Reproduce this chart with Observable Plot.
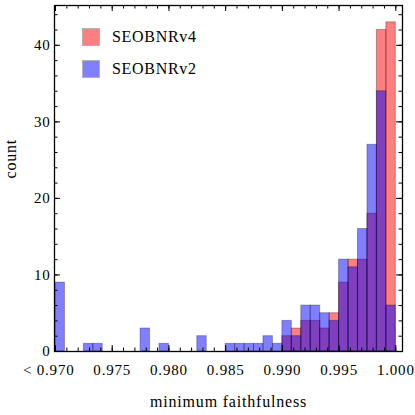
<!DOCTYPE html>
<html>
<head>
<meta charset="utf-8">
<script src="https://cdn.jsdelivr.net/npm/d3@7"></script>
<script src="https://cdn.jsdelivr.net/npm/@observablehq/plot@0.6"></script>
<style>
  html, body { margin: 0; padding: 0; background: #fff; }
  #wrap { position: relative; width: 415px; height: 415px; font-family: "Liberation Serif", serif; }
  #wrap svg text { font-family: "Liberation Serif", serif; }
  .leg { position: absolute; left: 83px; width: 16px; height: 16px; }
  .legtxt { position: absolute; left: 112px; font-size: 16px; letter-spacing: 0.7px; line-height: 16px; color: #000; }
</style>
</head>
<body>
<div id="wrap"></div>
<script>
// ---- data ----
const seriesNames = ["SEOBNRv4", "SEOBNRv2"];
const binLow = 0.970;          // first bin lower edge (values below 0.970 are collected in bin 0)
const binCount = 36;           // bins of width 1/1200 from 0.970 to 1.000
const countsV4 = [0,0,0,0,0,0,0,0,0,0,0,0,0,0,0,0,0,0,0,0,0,0,0,0,
                  2,3,4,4,3,5,9,12,12,18,42,43];
const countsV2 = [9,0,0,1,1,0,0,0,0,3,0,1,0,0,0,2,0,0,1,1,1,1,2,1,
                  4,2,6,6,5,4,12,11,16,27,34,6];
const xTickLabels = [0.970, 0.975, 0.980, 0.985, 0.990, 0.995, 1.000];
const yTickLabels = [0, 10, 20, 30, 40];

// ---- layout ----
const W = 415, H = 415;
const mL = 54, mR = 13, mT = 5, mB = 64;
const plotW = W - mL - mR, plotH = H - mT - mB;
const bw = (1.000 - binLow) / binCount;
const FONT = "Liberation Serif, serif";

const rows = [];
[countsV4, countsV2].forEach((arr, s) => {
  arr.forEach((c, i) => {
    if (c > 0) rows.push({series: seriesNames[s], lo: binLow + i * bw, hi: binLow + (i + 1) * bw, count: c});
  });
});
const colors = {SEOBNRv4: "rgb(255,0,0)", SEOBNRv2: "rgb(0,0,255)"};

const xMinor = d3.range(0, 31).map(k => +(0.970 + k * 0.001).toFixed(3));
const yMinor = d3.range(0, 46, 2);

const chart = Plot.plot({
  width: W, height: H,
  marginLeft: mL, marginRight: mR, marginTop: mT, marginBottom: mB,
  style: {fontFamily: FONT, fontSize: "15px", color: "#000", background: "#fff", letterSpacing: "0.8px"},
  x: {domain: [binLow - 0.0000882, 1.00059]},
  y: {domain: [0, 45.2]},
  marks: [
    Plot.rectY(rows.filter(d => d.series === "SEOBNRv4"), {x1: "lo", x2: "hi", y: "count", fill: d => colors[d.series], fillOpacity: 0.5, stroke: "black", strokeOpacity: 0.3, strokeWidth: 1}),
    Plot.rectY(rows.filter(d => d.series === "SEOBNRv2"), {x1: "lo", x2: "hi", y: "count", fill: d => colors[d.series], fillOpacity: 0.5, stroke: "black", strokeOpacity: 0.3, strokeWidth: 1}),
    // inward ticks: bottom & top (x), left & right (y)
    Plot.tickX(xMinor, {x: d => d, insetTop: plotH - 3.5, stroke: "black", strokeWidth: 1}),
    Plot.tickX(xMinor, {x: d => d, insetBottom: plotH - 3.5, stroke: "black", strokeWidth: 1}),
    Plot.tickX(xTickLabels, {x: d => d, insetTop: plotH - 6, stroke: "black", strokeWidth: 1}),
    Plot.tickX(xTickLabels, {x: d => d, insetBottom: plotH - 6, stroke: "black", strokeWidth: 1}),
    Plot.tickY(yMinor, {y: d => d, insetRight: plotW - 3.5, stroke: "black", strokeWidth: 1}),
    Plot.tickY(yMinor, {y: d => d, insetLeft: plotW - 3.5, stroke: "black", strokeWidth: 1}),
    Plot.tickY(yTickLabels, {y: d => d, insetRight: plotW - 6, stroke: "black", strokeWidth: 1}),
    Plot.tickY(yTickLabels, {y: d => d, insetLeft: plotW - 6, stroke: "black", strokeWidth: 1}),
    Plot.frame({stroke: "black", strokeWidth: 1.3}),
    // tick labels
    Plot.axisX(xTickLabels.slice(1), {tickSize: 0, tickPadding: 13, tickFormat: d => d.toFixed(3), fill: "black", label: null, fontSize: 15, fontFamily: FONT}),
    Plot.axisX([xTickLabels[0]], {tickSize: 0, tickPadding: 13, tickFormat: d => "< " + d.toFixed(3), textAnchor: "end", dx: 19, fill: "black", label: null, fontSize: 15, fontFamily: FONT}),
    Plot.axisY(yTickLabels, {tickSize: 0, tickPadding: 4, fill: "black", label: null, fontSize: 15, fontFamily: FONT}),
    // axis titles
    Plot.text(["count"], {text: d => d, frameAnchor: "left", dx: -44, rotate: -90, fontSize: 16, fill: "black", fontFamily: FONT}),
    Plot.text(["minimum faithfulness"], {text: d => d, frameAnchor: "bottom", dy: 55, fontSize: 16, fill: "black", fontFamily: FONT})
  ]
});
chart.style.letterSpacing = "0.8px";
const wrap = document.getElementById("wrap");
wrap.appendChild(chart);

// legend
[["SEOBNRv4", 29], ["SEOBNRv2", 61]].forEach(([name, top]) => {
  const sw = document.createElement("div");
  sw.className = "leg";
  sw.style.top = top + "px";
  sw.style.background = name === "SEOBNRv4" ? "rgba(255,0,0,0.5)" : "rgba(0,0,255,0.5)";
  sw.style.outline = "1px solid rgba(0,0,0,0.3)";
  wrap.appendChild(sw);
  const tx = document.createElement("div");
  tx.className = "legtxt";
  tx.style.top = (top) + "px";
  tx.textContent = name;
  wrap.appendChild(tx);
});
</script>
</body>
</html>
